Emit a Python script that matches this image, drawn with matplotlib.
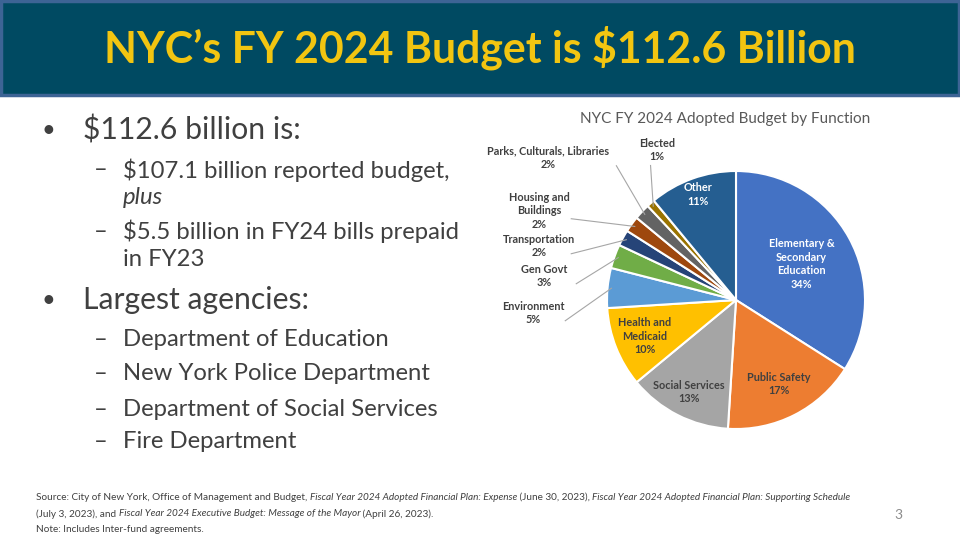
import numpy as np
import matplotlib.pyplot as plt
from matplotlib.patches import Rectangle

plt.rcParams['font.family'] = ['Lato', 'DejaVu Sans']

# pie data (share of budget, %), clockwise from 12 o'clock
functions = ["Elementary &\nSecondary\nEducation", "Public Safety", "Social Services",
             "Health and\nMedicaid", "Environment", "Gen Govt", "Transportation",
             "Housing and\nBuildings", "Parks, Culturals, Libraries", "Elected", "Other"]
shares = [34, 17, 13, 10, 5, 3, 2, 2, 2, 1, 11]
colors = ["#4472C4", "#ED7D31", "#A5A5A5", "#FFC000", "#5B9BD5", "#70AD47",
          "#264478", "#9E480E", "#636363", "#997300", "#255E91"]

# label placement: inside (radius fraction) or outside (pixel anchor of label)
inside_r = {0: 0.58, 1: 0.73, 2: 0.8, 3: 0.76, 10: 0.87}
label_color = {0: "white", 10: "white"}
outside_xy = {4: (533, 313), 5: (544, 276), 6: (539, 246), 7: (539, 211),
              8: (548, 158), 9: (657, 150)}

bullets = [
    (0, "$112.6 billion is:"),
    (1, "$107.1 billion reported budget,"),
    (2, "plus"),
    (1, "$5.5 billion in FY24 bills prepaid"),
    (2, "in FY23"),
    (0, "Largest agencies:"),
    (1, "Department of Education"),
    (1, "New York Police Department"),
    (1, "Department of Social Services"),
    (1, "Fire Department"),
]
bullet_y = [130, 170, 197, 231, 259, 300, 340, 374, 409, 442]

W, H = 960, 540
fig = plt.figure(figsize=(9.6, 5.4), dpi=100)
bg = fig.add_axes([0, 0, 1, 1])
bg.set_xlim(0, W)
bg.set_ylim(H, 0)
bg.axis("off")

# header banner
bg.add_patch(Rectangle((1, 1), W - 2, 94, facecolor="#004A62", edgecolor="#3D6495", lw=2.5))
bg.text(W / 2, 48, "NYC’s FY 2024 Budget is $112.6 Billion", color="#F2C511",
        fontsize=30.8, fontweight="bold", ha="center", va="center")

# bullet text
text_gray = "#404040"
for (lvl, txt), y in zip(bullets, bullet_y):
    if lvl == 0:
        bg.text(48, y, "•", fontsize=17, color=text_gray, ha="center", va="center")
        bg.text(83, y, txt, fontsize=21.7, color=text_gray, va="center")
    elif lvl == 1:
        bg.text(101, y, "–", fontsize=17, color=text_gray, ha="center", va="center")
        bg.text(123, y, txt, fontsize=17.2, color=text_gray, va="center")
    else:
        style = "italic" if txt == "plus" else "normal"
        bg.text(123, y, txt, fontsize=17.2, color=text_gray, va="center", style=style)

# chart title
bg.text(725, 119, "NYC FY 2024 Adopted Budget by Function", fontsize=11,
        color="#595959", ha="center", va="center")

# source notes
src = "#404040"
notes = [
    (497, [("Source: City of New York, Office of Management and Budget, ", "normal"),
           ("Fiscal Year 2024 Adopted Financial Plan: Expense", "italic"),
           (" (June 30, 2023), ", "normal"),
           ("Fiscal Year 2024 Adopted Financial Plan: Supporting Schedule", "italic")]),
    (514, [("(July 3, 2023), and ", "normal"),
           ("Fiscal Year 2024 Executive Budget: Message of the Mayor", "italic"),
           (" (April 26, 2023).", "normal")]),
    (529, [("Note: Includes Inter-fund agreements.", "normal")]),
]
fig.canvas.draw()
renderer = fig.canvas.get_renderer()
for y, parts in notes:
    x = 36
    for txt, style in parts:
        t = bg.text(x, y, txt, fontsize=7.2, color=src, va="center", style=style)
        bb = t.get_window_extent(renderer)
        x += bb.width * W / fig.bbox.width
bg.text(898, 515, "3", fontsize=10, color="#8C8C8C", ha="center", va="center")

# pie
cx, cy, R = 736, 300, 129
ax = fig.add_axes([(cx - R) / W, (H - cy - R) / H, 2 * R / W, 2 * R / H])
wedges, _ = ax.pie(shares, colors=colors, startangle=90, counterclock=False,
                   wedgeprops=dict(edgecolor="white", linewidth=1.5))
ax.set_xlim(-1, 1)
ax.set_ylim(-1, 1)
ax.axis("off")

lbl_font = dict(fontsize=7.8, fontweight="bold", ha="center", va="center")
for i, w in enumerate(wedges):
    mid = np.deg2rad((w.theta1 + w.theta2) / 2)
    txt = f"{functions[i]}\n{shares[i]}%"
    if i in inside_r:
        r = inside_r[i]
        ax.text(r * np.cos(mid), r * np.sin(mid), txt,
                color=label_color.get(i, "#404040"), linespacing=1.3, **lbl_font)
    else:
        px, py = outside_xy[i]
        lx, ly = (px - cx) / R, (cy - py) / R
        ex, ey = np.cos(mid) * 0.97, np.sin(mid) * 0.97
        ax.text(lx, ly, txt, color="#404040", linespacing=1.3, **lbl_font)
        if i == 9:
            sx, sy = lx - 0.05, ly - 0.12
        elif i == 8:
            sx, sy = lx + 0.53, ly - 0.06
        else:
            sx, sy = lx + 0.25, ly - 0.06
        ax.plot([sx, ex], [sy, ey], color="#A6A6A6", lw=0.8, clip_on=False)

fig.savefig("out.png", dpi=100)
